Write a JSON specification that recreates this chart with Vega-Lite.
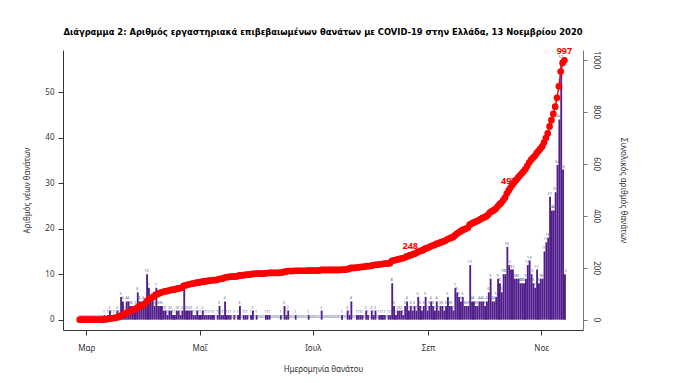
{
"$schema":"https://vega.github.io/schema/vega-lite/v6.json",
"width":520,"height":280,
"autosize":{"type":"none"},
"padding":{"left":63,"top":50,"right":96,"bottom":53},
"background":"white",
"title":{"text":"Διάγραμμα 2: Αριθμός εργαστηριακά επιβεβαιωμένων θανάτων με COVID-19 στην Ελλάδα, 13 Νοεμβρίου 2020","font":"Liberation Sans Narrow, DejaVu Sans Condensed, sans-serif","fontSize":9.3,"fontWeight":"bold","color":"#000000","anchor":"middle","offset":10},
"data":{"values":[
{"date":"2020-02-26","deaths":0,"total":0},{"date":"2020-02-27","deaths":0,"total":0},{"date":"2020-02-28","deaths":0,"total":0},{"date":"2020-02-29","deaths":0,"total":0},
{"date":"2020-03-01","deaths":0,"total":0},{"date":"2020-03-02","deaths":0,"total":0},{"date":"2020-03-03","deaths":0,"total":0},{"date":"2020-03-04","deaths":0,"total":0},{"date":"2020-03-05","deaths":0,"total":0},{"date":"2020-03-06","deaths":0,"total":0},{"date":"2020-03-07","deaths":0,"total":0},{"date":"2020-03-08","deaths":0,"total":0},{"date":"2020-03-09","deaths":0,"total":0},
{"date":"2020-03-10","deaths":1,"total":1},{"date":"2020-03-11","deaths":0,"total":1},{"date":"2020-03-12","deaths":1,"total":2},{"date":"2020-03-13","deaths":2,"total":4},{"date":"2020-03-14","deaths":1,"total":5},{"date":"2020-03-15","deaths":1,"total":6},{"date":"2020-03-16","deaths":1,"total":7},{"date":"2020-03-17","deaths":2,"total":9},{"date":"2020-03-18","deaths":1,"total":10},{"date":"2020-03-19","deaths":5,"total":15},{"date":"2020-03-20","deaths":4,"total":19},{"date":"2020-03-21","deaths":2,"total":21},{"date":"2020-03-22","deaths":4,"total":25},{"date":"2020-03-23","deaths":4,"total":29},{"date":"2020-03-24","deaths":3,"total":32},{"date":"2020-03-25","deaths":3,"total":35},{"date":"2020-03-26","deaths":2,"total":37},{"date":"2020-03-27","deaths":3,"total":40},{"date":"2020-03-28","deaths":6,"total":46},{"date":"2020-03-29","deaths":4,"total":50},{"date":"2020-03-30","deaths":3,"total":53},{"date":"2020-03-31","deaths":4,"total":57},
{"date":"2020-04-01","deaths":3,"total":60},{"date":"2020-04-02","deaths":10,"total":70},{"date":"2020-04-03","deaths":7,"total":77},{"date":"2020-04-04","deaths":4,"total":81},{"date":"2020-04-05","deaths":5,"total":86},{"date":"2020-04-06","deaths":3,"total":89},{"date":"2020-04-07","deaths":7,"total":96},{"date":"2020-04-08","deaths":3,"total":99},{"date":"2020-04-09","deaths":3,"total":102},{"date":"2020-04-10","deaths":3,"total":105},{"date":"2020-04-11","deaths":2,"total":107},{"date":"2020-04-12","deaths":2,"total":109},{"date":"2020-04-13","deaths":1,"total":110},{"date":"2020-04-14","deaths":2,"total":112},{"date":"2020-04-15","deaths":2,"total":114},{"date":"2020-04-16","deaths":1,"total":115},{"date":"2020-04-17","deaths":1,"total":116},{"date":"2020-04-18","deaths":2,"total":118},{"date":"2020-04-19","deaths":2,"total":120},{"date":"2020-04-20","deaths":1,"total":121},{"date":"2020-04-21","deaths":2,"total":123},{"date":"2020-04-22","deaths":7,"total":130},{"date":"2020-04-23","deaths":2,"total":132},{"date":"2020-04-24","deaths":2,"total":134},{"date":"2020-04-25","deaths":2,"total":136},{"date":"2020-04-26","deaths":2,"total":138},{"date":"2020-04-27","deaths":1,"total":139},{"date":"2020-04-28","deaths":1,"total":140},{"date":"2020-04-29","deaths":2,"total":142},{"date":"2020-04-30","deaths":1,"total":143},
{"date":"2020-05-01","deaths":1,"total":144},{"date":"2020-05-02","deaths":2,"total":146},{"date":"2020-05-03","deaths":1,"total":147},{"date":"2020-05-04","deaths":1,"total":148},{"date":"2020-05-05","deaths":1,"total":149},{"date":"2020-05-06","deaths":1,"total":150},{"date":"2020-05-07","deaths":1,"total":151},{"date":"2020-05-08","deaths":1,"total":152},{"date":"2020-05-09","deaths":0,"total":152},{"date":"2020-05-10","deaths":1,"total":153},{"date":"2020-05-11","deaths":3,"total":156},{"date":"2020-05-12","deaths":1,"total":157},{"date":"2020-05-13","deaths":1,"total":158},{"date":"2020-05-14","deaths":4,"total":162},{"date":"2020-05-15","deaths":1,"total":163},{"date":"2020-05-16","deaths":1,"total":164},{"date":"2020-05-17","deaths":1,"total":165},{"date":"2020-05-18","deaths":0,"total":165},{"date":"2020-05-19","deaths":1,"total":166},{"date":"2020-05-20","deaths":0,"total":166},{"date":"2020-05-21","deaths":1,"total":167},{"date":"2020-05-22","deaths":3,"total":170},{"date":"2020-05-23","deaths":0,"total":170},{"date":"2020-05-24","deaths":1,"total":171},{"date":"2020-05-25","deaths":1,"total":172},{"date":"2020-05-26","deaths":1,"total":173},{"date":"2020-05-27","deaths":0,"total":173},{"date":"2020-05-28","deaths":1,"total":174},{"date":"2020-05-29","deaths":2,"total":176},{"date":"2020-05-30","deaths":0,"total":176},{"date":"2020-05-31","deaths":1,"total":177},
{"date":"2020-06-01","deaths":0,"total":177},{"date":"2020-06-02","deaths":0,"total":177},{"date":"2020-06-03","deaths":0,"total":177},{"date":"2020-06-04","deaths":0,"total":177},{"date":"2020-06-05","deaths":1,"total":178},{"date":"2020-06-06","deaths":1,"total":179},{"date":"2020-06-07","deaths":1,"total":180},{"date":"2020-06-08","deaths":0,"total":180},{"date":"2020-06-09","deaths":0,"total":180},{"date":"2020-06-10","deaths":0,"total":180},{"date":"2020-06-11","deaths":0,"total":180},{"date":"2020-06-12","deaths":0,"total":180},{"date":"2020-06-13","deaths":1,"total":181},{"date":"2020-06-14","deaths":0,"total":181},{"date":"2020-06-15","deaths":3,"total":184},{"date":"2020-06-16","deaths":1,"total":185},{"date":"2020-06-17","deaths":2,"total":187},{"date":"2020-06-18","deaths":0,"total":187},{"date":"2020-06-19","deaths":0,"total":187},{"date":"2020-06-20","deaths":0,"total":187},{"date":"2020-06-21","deaths":1,"total":188},{"date":"2020-06-22","deaths":0,"total":188},{"date":"2020-06-23","deaths":0,"total":188},{"date":"2020-06-24","deaths":0,"total":188},{"date":"2020-06-25","deaths":0,"total":188},{"date":"2020-06-26","deaths":0,"total":188},{"date":"2020-06-27","deaths":0,"total":188},{"date":"2020-06-28","deaths":1,"total":189},{"date":"2020-06-29","deaths":0,"total":189},{"date":"2020-06-30","deaths":0,"total":189},
{"date":"2020-07-01","deaths":0,"total":189},{"date":"2020-07-02","deaths":0,"total":189},{"date":"2020-07-03","deaths":0,"total":189},{"date":"2020-07-04","deaths":0,"total":189},{"date":"2020-07-05","deaths":2,"total":191},{"date":"2020-07-06","deaths":0,"total":191},{"date":"2020-07-07","deaths":0,"total":191},{"date":"2020-07-08","deaths":0,"total":191},{"date":"2020-07-09","deaths":0,"total":191},{"date":"2020-07-10","deaths":0,"total":191},{"date":"2020-07-11","deaths":0,"total":191},{"date":"2020-07-12","deaths":0,"total":191},{"date":"2020-07-13","deaths":0,"total":191},{"date":"2020-07-14","deaths":0,"total":191},{"date":"2020-07-15","deaths":0,"total":191},{"date":"2020-07-16","deaths":1,"total":192},{"date":"2020-07-17","deaths":0,"total":192},{"date":"2020-07-18","deaths":0,"total":192},{"date":"2020-07-19","deaths":2,"total":194},{"date":"2020-07-20","deaths":1,"total":195},{"date":"2020-07-21","deaths":4,"total":199},{"date":"2020-07-22","deaths":0,"total":199},{"date":"2020-07-23","deaths":0,"total":199},{"date":"2020-07-24","deaths":1,"total":200},{"date":"2020-07-25","deaths":1,"total":201},{"date":"2020-07-26","deaths":1,"total":202},{"date":"2020-07-27","deaths":1,"total":203},{"date":"2020-07-28","deaths":0,"total":203},{"date":"2020-07-29","deaths":2,"total":205},{"date":"2020-07-30","deaths":1,"total":206},{"date":"2020-07-31","deaths":0,"total":206},
{"date":"2020-08-01","deaths":2,"total":208},{"date":"2020-08-02","deaths":1,"total":209},{"date":"2020-08-03","deaths":2,"total":211},{"date":"2020-08-04","deaths":0,"total":211},{"date":"2020-08-05","deaths":1,"total":212},{"date":"2020-08-06","deaths":1,"total":213},{"date":"2020-08-07","deaths":1,"total":214},{"date":"2020-08-08","deaths":1,"total":215},{"date":"2020-08-09","deaths":0,"total":215},{"date":"2020-08-10","deaths":1,"total":216},{"date":"2020-08-11","deaths":1,"total":217},{"date":"2020-08-12","deaths":8,"total":225},{"date":"2020-08-13","deaths":3,"total":228},{"date":"2020-08-14","deaths":1,"total":229},{"date":"2020-08-15","deaths":2,"total":231},{"date":"2020-08-16","deaths":2,"total":233},{"date":"2020-08-17","deaths":2,"total":235},{"date":"2020-08-18","deaths":1,"total":236},{"date":"2020-08-19","deaths":3,"total":239},{"date":"2020-08-20","deaths":4,"total":243},{"date":"2020-08-21","deaths":2,"total":245},{"date":"2020-08-22","deaths":3,"total":248},{"date":"2020-08-23","deaths":2,"total":250},{"date":"2020-08-24","deaths":3,"total":253},{"date":"2020-08-25","deaths":2,"total":255},{"date":"2020-08-26","deaths":5,"total":260},{"date":"2020-08-27","deaths":3,"total":263},{"date":"2020-08-28","deaths":2,"total":265},{"date":"2020-08-29","deaths":3,"total":268},{"date":"2020-08-30","deaths":5,"total":273},{"date":"2020-08-31","deaths":2,"total":275},
{"date":"2020-09-01","deaths":3,"total":278},{"date":"2020-09-02","deaths":4,"total":282},{"date":"2020-09-03","deaths":3,"total":285},{"date":"2020-09-04","deaths":2,"total":287},{"date":"2020-09-05","deaths":4,"total":291},{"date":"2020-09-06","deaths":2,"total":293},{"date":"2020-09-07","deaths":3,"total":296},{"date":"2020-09-08","deaths":3,"total":299},{"date":"2020-09-09","deaths":2,"total":301},{"date":"2020-09-10","deaths":3,"total":304},{"date":"2020-09-11","deaths":5,"total":309},{"date":"2020-09-12","deaths":3,"total":312},{"date":"2020-09-13","deaths":3,"total":315},{"date":"2020-09-14","deaths":2,"total":317},{"date":"2020-09-15","deaths":7,"total":324},{"date":"2020-09-16","deaths":6,"total":330},{"date":"2020-09-17","deaths":5,"total":335},{"date":"2020-09-18","deaths":4,"total":339},{"date":"2020-09-19","deaths":5,"total":344},{"date":"2020-09-20","deaths":3,"total":347},{"date":"2020-09-21","deaths":3,"total":350},{"date":"2020-09-22","deaths":3,"total":353},{"date":"2020-09-23","deaths":12,"total":365},{"date":"2020-09-24","deaths":4,"total":369},{"date":"2020-09-25","deaths":4,"total":373},{"date":"2020-09-26","deaths":3,"total":376},{"date":"2020-09-27","deaths":3,"total":379},{"date":"2020-09-28","deaths":4,"total":383},{"date":"2020-09-29","deaths":4,"total":387},{"date":"2020-09-30","deaths":4,"total":391},
{"date":"2020-10-01","deaths":3,"total":394},{"date":"2020-10-02","deaths":4,"total":398},{"date":"2020-10-03","deaths":6,"total":404},{"date":"2020-10-04","deaths":9,"total":413},{"date":"2020-10-05","deaths":4,"total":417},{"date":"2020-10-06","deaths":4,"total":421},{"date":"2020-10-07","deaths":5,"total":426},{"date":"2020-10-08","deaths":9,"total":435},{"date":"2020-10-09","deaths":8,"total":443},{"date":"2020-10-10","deaths":6,"total":449},{"date":"2020-10-11","deaths":10,"total":459},{"date":"2020-10-12","deaths":10,"total":469},{"date":"2020-10-13","deaths":16,"total":485},{"date":"2020-10-14","deaths":12,"total":497},{"date":"2020-10-15","deaths":11,"total":508},{"date":"2020-10-16","deaths":11,"total":519},{"date":"2020-10-17","deaths":9,"total":528},{"date":"2020-10-18","deaths":9,"total":537},{"date":"2020-10-19","deaths":9,"total":546},{"date":"2020-10-20","deaths":8,"total":554},{"date":"2020-10-21","deaths":8,"total":562},{"date":"2020-10-22","deaths":8,"total":570},{"date":"2020-10-23","deaths":9,"total":579},{"date":"2020-10-24","deaths":12,"total":591},{"date":"2020-10-25","deaths":13,"total":604},{"date":"2020-10-26","deaths":10,"total":614},{"date":"2020-10-27","deaths":8,"total":622},{"date":"2020-10-28","deaths":7,"total":629},{"date":"2020-10-29","deaths":11,"total":640},{"date":"2020-10-30","deaths":8,"total":648},{"date":"2020-10-31","deaths":9,"total":657},
{"date":"2020-11-01","deaths":9,"total":666},{"date":"2020-11-02","deaths":15,"total":681},{"date":"2020-11-03","deaths":17,"total":698},{"date":"2020-11-04","deaths":18,"total":716},{"date":"2020-11-05","deaths":27,"total":743},{"date":"2020-11-06","deaths":24,"total":767},{"date":"2020-11-07","deaths":24,"total":791},{"date":"2020-11-08","deaths":28,"total":819},{"date":"2020-11-09","deaths":34,"total":853},{"date":"2020-11-10","deaths":44,"total":897},{"date":"2020-11-11","deaths":57,"total":954},{"date":"2020-11-12","deaths":33,"total":987},{"date":"2020-11-13","deaths":10,"total":997}
]},
"layer":[
 {"layer":[
  {"mark":{"type":"bar","color":"#521e8c","binSpacing":0},
   "encoding":{
    "x":{"field":"date","timeUnit":"utcyearmonthdate","type":"temporal",
         "scale":{"type":"utc","domain":[{"year":2020,"month":2,"date":17,"hours":12,"utc":true},{"year":2020,"month":11,"date":23,"hours":12,"utc":true}],"nice":false},
         "axis":{"title":"Ημερομηνία θανάτου","values":[{"year":2020,"month":3,"date":1,"utc":true},{"year":2020,"month":5,"date":1,"utc":true},{"year":2020,"month":7,"date":1,"utc":true},{"year":2020,"month":9,"date":1,"utc":true},{"year":2020,"month":11,"date":1,"utc":true}],"labelExpr":"['Ιαν','Φεβ','Μαρ','Απρ','Μαΐ','Ιουν','Ιουλ','Αυγ','Σεπ','Οκτ','Νοε','Δεκ'][utcmonth(datum.value)]","grid":false,"tickSize":5,"labelPadding":9,"labelFontSize":8,"labelFont":"Noto Sans","labelColor":"#333333","titleFont":"Noto Sans","titleFontSize":8,"titleFontWeight":"normal","titleColor":"#333333","titlePadding":13,"domainColor":"#333333","tickColor":"#333333","labelFlush":false,"labelOverlap":false}},
    "y":{"field":"deaths","type":"quantitative","scale":{"domain":[-2.28,59.28],"nice":false,"zero":false},
         "axis":{"title":"Αριθμός νέων θανάτων","values":[0,10,20,30,40,50],"grid":false,"tickSize":5,"labelPadding":4,"labelFontSize":8,"labelFont":"Noto Sans","labelColor":"#333333","titleFont":"Noto Sans","titleFontSize":8,"titleFontWeight":"normal","titleColor":"#333333","titlePadding":13,"domainColor":"#333333","tickColor":"#333333"}}}},
  {"mark":{"type":"text","fontSize":4,"color":"#5b6a95","dy":-3,"font":"Noto Sans"},
   "encoding":{
    "x":{"field":"date","timeUnit":"utcyearmonthdate","type":"temporal","bandPosition":0.5,
         "scale":{"type":"utc","domain":[{"year":2020,"month":2,"date":17,"hours":12,"utc":true},{"year":2020,"month":11,"date":23,"hours":12,"utc":true}],"nice":false},
         "axis":{"title":"Ημερομηνία θανάτου","values":[{"year":2020,"month":3,"date":1,"utc":true},{"year":2020,"month":5,"date":1,"utc":true},{"year":2020,"month":7,"date":1,"utc":true},{"year":2020,"month":9,"date":1,"utc":true},{"year":2020,"month":11,"date":1,"utc":true}],"labelExpr":"['Ιαν','Φεβ','Μαρ','Απρ','Μαΐ','Ιουν','Ιουλ','Αυγ','Σεπ','Οκτ','Νοε','Δεκ'][utcmonth(datum.value)]","grid":false,"tickSize":5,"labelPadding":9,"labelFontSize":8,"labelFont":"Noto Sans","labelColor":"#333333","titleFont":"Noto Sans","titleFontSize":8,"titleFontWeight":"normal","titleColor":"#333333","titlePadding":13,"domainColor":"#333333","tickColor":"#333333","labelFlush":false,"labelOverlap":false}},
    "y":{"field":"deaths","type":"quantitative","scale":{"domain":[-2.28,59.28],"nice":false,"zero":false},
         "axis":{"title":"Αριθμός νέων θανάτων","values":[0,10,20,30,40,50],"grid":false,"tickSize":5,"labelPadding":4,"labelFontSize":8,"labelFont":"Noto Sans","labelColor":"#333333","titleFont":"Noto Sans","titleFontSize":8,"titleFontWeight":"normal","titleColor":"#333333","titlePadding":13,"domainColor":"#333333","tickColor":"#333333"}},
    "text":{"field":"deaths","type":"quantitative"}}}
 ]},
 {"layer":[
  {"mark":{"type":"line","color":"#ff0000","strokeWidth":1.5},
   "encoding":{
    "x":{"field":"date","timeUnit":"utcyearmonthdate","type":"temporal","bandPosition":0.5,
         "scale":{"type":"utc","domain":[{"year":2020,"month":2,"date":17,"hours":12,"utc":true},{"year":2020,"month":11,"date":23,"hours":12,"utc":true}],"nice":false},
         "axis":{"title":"Ημερομηνία θανάτου","values":[{"year":2020,"month":3,"date":1,"utc":true},{"year":2020,"month":5,"date":1,"utc":true},{"year":2020,"month":7,"date":1,"utc":true},{"year":2020,"month":9,"date":1,"utc":true},{"year":2020,"month":11,"date":1,"utc":true}],"labelExpr":"['Ιαν','Φεβ','Μαρ','Απρ','Μαΐ','Ιουν','Ιουλ','Αυγ','Σεπ','Οκτ','Νοε','Δεκ'][utcmonth(datum.value)]","grid":false,"tickSize":5,"labelPadding":9,"labelFontSize":8,"labelFont":"Noto Sans","labelColor":"#333333","titleFont":"Noto Sans","titleFontSize":8,"titleFontWeight":"normal","titleColor":"#333333","titlePadding":13,"domainColor":"#333333","tickColor":"#333333","labelFlush":false,"labelOverlap":false}},
    "y":{"field":"total","type":"quantitative","scale":{"domain":[-39.88,1036.88],"nice":false,"zero":false},
         "axis":{"orient":"right","title":"Συνολικός αριθμός θανάτων","values":[0,200,400,600,800,1000],"format":"d","labelAngle":90,"grid":false,"tickSize":4,"labelPadding":4,"labelFontSize":8,"labelFont":"Noto Sans","labelColor":"#333333","titleFont":"Noto Sans","titleFontSize":8,"titleFontWeight":"normal","titleColor":"#333333","titlePadding":19,"domainColor":"#777777","tickColor":"#777777"}}}},
  {"mark":{"type":"point","filled":true,"color":"#ff0000","size":45,"opacity":1},
   "encoding":{
    "x":{"field":"date","timeUnit":"utcyearmonthdate","type":"temporal","bandPosition":0.5,
         "scale":{"type":"utc","domain":[{"year":2020,"month":2,"date":17,"hours":12,"utc":true},{"year":2020,"month":11,"date":23,"hours":12,"utc":true}],"nice":false},
         "axis":{"title":"Ημερομηνία θανάτου","values":[{"year":2020,"month":3,"date":1,"utc":true},{"year":2020,"month":5,"date":1,"utc":true},{"year":2020,"month":7,"date":1,"utc":true},{"year":2020,"month":9,"date":1,"utc":true},{"year":2020,"month":11,"date":1,"utc":true}],"labelExpr":"['Ιαν','Φεβ','Μαρ','Απρ','Μαΐ','Ιουν','Ιουλ','Αυγ','Σεπ','Οκτ','Νοε','Δεκ'][utcmonth(datum.value)]","grid":false,"tickSize":5,"labelPadding":9,"labelFontSize":8,"labelFont":"Noto Sans","labelColor":"#333333","titleFont":"Noto Sans","titleFontSize":8,"titleFontWeight":"normal","titleColor":"#333333","titlePadding":13,"domainColor":"#333333","tickColor":"#333333","labelFlush":false,"labelOverlap":false}},
    "y":{"field":"total","type":"quantitative","scale":{"domain":[-39.88,1036.88],"nice":false,"zero":false},
         "axis":{"orient":"right","title":"Συνολικός αριθμός θανάτων","values":[0,200,400,600,800,1000],"format":"d","labelAngle":90,"grid":false,"tickSize":4,"labelPadding":4,"labelFontSize":8,"labelFont":"Noto Sans","labelColor":"#333333","titleFont":"Noto Sans","titleFontSize":8,"titleFontWeight":"normal","titleColor":"#333333","titlePadding":19,"domainColor":"#777777","tickColor":"#777777"}}}},
  {"transform":[{"filter":"datum.total == 248 || datum.total == 497 || datum.total == 997"}],
   "mark":{"type":"text","color":"#ff0000","fontSize":9,"fontWeight":"bold","dy":-9,"font":"Noto Sans"},
   "encoding":{
    "x":{"field":"date","timeUnit":"utcyearmonthdate","type":"temporal","bandPosition":0.5,
         "scale":{"type":"utc","domain":[{"year":2020,"month":2,"date":17,"hours":12,"utc":true},{"year":2020,"month":11,"date":23,"hours":12,"utc":true}],"nice":false},
         "axis":{"title":"Ημερομηνία θανάτου","values":[{"year":2020,"month":3,"date":1,"utc":true},{"year":2020,"month":5,"date":1,"utc":true},{"year":2020,"month":7,"date":1,"utc":true},{"year":2020,"month":9,"date":1,"utc":true},{"year":2020,"month":11,"date":1,"utc":true}],"labelExpr":"['Ιαν','Φεβ','Μαρ','Απρ','Μαΐ','Ιουν','Ιουλ','Αυγ','Σεπ','Οκτ','Νοε','Δεκ'][utcmonth(datum.value)]","grid":false,"tickSize":5,"labelPadding":9,"labelFontSize":8,"labelFont":"Noto Sans","labelColor":"#333333","titleFont":"Noto Sans","titleFontSize":8,"titleFontWeight":"normal","titleColor":"#333333","titlePadding":13,"domainColor":"#333333","tickColor":"#333333","labelFlush":false,"labelOverlap":false}},
    "y":{"field":"total","type":"quantitative","scale":{"domain":[-39.88,1036.88],"nice":false,"zero":false},
         "axis":{"orient":"right","title":"Συνολικός αριθμός θανάτων","values":[0,200,400,600,800,1000],"format":"d","labelAngle":90,"grid":false,"tickSize":4,"labelPadding":4,"labelFontSize":8,"labelFont":"Noto Sans","labelColor":"#333333","titleFont":"Noto Sans","titleFontSize":8,"titleFontWeight":"normal","titleColor":"#333333","titlePadding":19,"domainColor":"#777777","tickColor":"#777777"}},
    "text":{"field":"total","type":"quantitative"}}}
 ]}
],
"resolve":{"scale":{"y":"independent"}},
"config":{"view":{"stroke":null}}
}
